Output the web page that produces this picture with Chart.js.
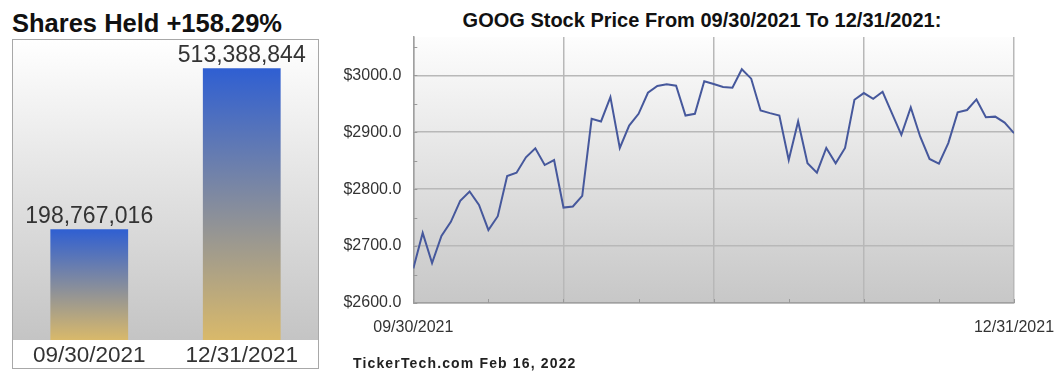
<!DOCTYPE html>
<html>
<head>
<meta charset="utf-8">
<script src="https://cdn.jsdelivr.net/npm/chart.js@4.4.1/dist/chart.umd.min.js"></script>
<style>
  body { margin: 0; background: #fff; width: 1060px; height: 386px; overflow: hidden; position: relative;
         font-family: Arial, "Liberation Sans", sans-serif; }
  .title { position: absolute; font-weight: bold; color: #111; white-space: nowrap; line-height: 1; }
  #sharesTitle { left: 12px; top: 11px; font-size: 25.5px; }
  #priceTitle { left: 702px; transform: translateX(-50%); top: 10px; font-size: 20px; }
  #sharesBox { position: absolute; left: 12px; top: 39px; width: 305px; height: 328px; border: 1px solid #a8a8a8; }
  #priceWrap { position: absolute; left: 330px; top: 0; }
  #footer { position: absolute; left: 353px; top: 356px; font-size: 14px; font-weight: bold; letter-spacing: 1.15px;
            color: #222; white-space: nowrap; line-height: 1; }
</style>
</head>
<body>
<div class="title" id="sharesTitle"></div>
<div class="title" id="priceTitle"></div>
<div id="sharesBox"><canvas id="sharesChart" width="305" height="328"></canvas></div>
<div id="priceWrap"><canvas id="priceChart" width="730" height="386"></canvas></div>
<div id="footer"></div>
<script>
// left panel: shares held at quarter end
const sharesTitle = "Shares Held +158.29%";
const quarterDates = ["09/30/2021", "12/31/2021"];
const sharesHeld = [198767016, 513388844];

// right panel: GOOG daily close, 09/30/2021 .. 12/31/2021
const priceTitle = "GOOG Stock Price From 09/30/2021 To 12/31/2021:";
const priceTickLabels = ["09/30/2021", "12/31/2021"];
const closePrices = [
  2660.7, 2723.0, 2670.0, 2717.8, 2742.5, 2779.5, 2796.0, 2772.4, 2728.3, 2752.5,
  2823.0, 2828.9, 2856.0, 2871.8, 2842.4, 2851.0, 2767.7, 2769.5, 2788.3, 2923.6,
  2918.9, 2961.8, 2872.4, 2911.8, 2932.4, 2969.4, 2981.2, 2984.1, 2981.8, 2929.4,
  2932.4, 2989.4, 2984.7, 2979.4, 2978.2, 3010.6, 2994.1, 2938.3, 2933.6, 2929.4,
  2851.2, 2918.9, 2845.4, 2828.9, 2872.4, 2845.4, 2872.4, 2957.1, 2968.8, 2958.8,
  2971.0, 2933.2, 2895.4, 2943.6, 2892.5, 2853.0, 2844.9, 2880.9, 2934.9, 2939.0,
  2957.6, 2926.2, 2927.4, 2916.9, 2898.3
];
const footerText = "TickerTech.com  Feb 16, 2022";

document.getElementById("sharesTitle").textContent = sharesTitle;
document.getElementById("priceTitle").textContent = priceTitle;
document.getElementById("footer").textContent = footerText;

Chart.defaults.font.family = 'Arial, "Liberation Sans", sans-serif';
Chart.defaults.color = "#333";

// fills the plot area with a vertical white-to-grey wash
const areaGradient = {
  id: "areaGradient",
  beforeDraw(chart, args, opts) {
    const { ctx, chartArea: a } = chart;
    const g = ctx.createLinearGradient(0, a.top, 0, a.bottom);
    g.addColorStop(0, opts.from);
    g.addColorStop(1, opts.to);
    ctx.save();
    ctx.fillStyle = g;
    ctx.fillRect(a.left, a.top, a.width, a.height);
    ctx.restore();
  }
};

// number printed above each bar
const barValues = {
  id: "barValues",
  afterDatasetsDraw(chart) {
    const { ctx } = chart;
    const meta = chart.getDatasetMeta(0);
    ctx.save();
    ctx.font = '23px Arial, "Liberation Sans", sans-serif';
    ctx.fillStyle = "#333";
    ctx.textAlign = "center";
    ctx.textBaseline = "alphabetic";
    meta.data.forEach((bar, i) => {
      ctx.fillText(sharesHeld[i].toLocaleString("en-US"), bar.x, bar.y - 6);
    });
    ctx.restore();
  }
};

// short tick marks pointing into the plot
const innerTicks = {
  id: "innerTicks",
  beforeDatasetsDraw(chart) {
    const { ctx, chartArea: a, scales: { x, y } } = chart;
    ctx.save();
    ctx.strokeStyle = "#9a9a9a";
    ctx.lineWidth = 1;
    ctx.beginPath();
    x.ticks.forEach(t => {
      const px = Math.round(x.getPixelForValue(t.value)) + 0.5;
      ctx.moveTo(px, a.bottom);
      ctx.lineTo(px, a.bottom - 4);
    });
    y.ticks.forEach(t => {
      const py = Math.round(y.getPixelForValue(t.value)) + 0.5;
      ctx.moveTo(a.left, py);
      ctx.lineTo(a.left + 4, py);
    });
    ctx.stroke();
    ctx.restore();
  }
};

const shareAxisMin = -17600000;
const shareAxisMax = 568700000;

new Chart(document.getElementById("sharesChart"), {
  type: "bar",
  data: {
    labels: quarterDates,
    datasets: [{
      data: sharesHeld,
      base: shareAxisMin,
      borderWidth: 0,
      barPercentage: 0.51,
      categoryPercentage: 1,
      backgroundColor(c) {
        const chart = c.chart;
        const a = chart.chartArea;
        if (!a) return "#3a62c8";
        const top = chart.scales.y.getPixelForValue(sharesHeld[c.dataIndex]);
        const g = chart.ctx.createLinearGradient(0, top, 0, a.bottom);
        g.addColorStop(0, "#2f5fd2");
        g.addColorStop(1, "#d9b96a");
        return g;
      }
    }]
  },
  options: {
    responsive: false,
    animation: false,
    devicePixelRatio: 1,
    layout: { padding: 0 },
    plugins: {
      legend: { display: false },
      tooltip: { enabled: false },
      areaGradient: { from: "#ffffff", to: "#c4c4c4" }
    },
    scales: {
      x: {
        afterFit(s) { s.height = 28; s.paddingLeft = 0; s.paddingRight = 0; },
        grid: { display: false, drawTicks: false },
        border: { display: false },
        ticks: { padding: 2, color: "#333", font: { size: 22.5 }, maxRotation: 0 }
      },
      y: { display: false, min: shareAxisMin, max: shareAxisMax }
    }
  },
  plugins: [areaGradient, barValues]
});

const lastIndex = closePrices.length - 1;

new Chart(document.getElementById("priceChart"), {
  type: "line",
  data: {
    datasets: [{
      data: closePrices.map((v, i) => ({ x: i, y: v })),
      borderColor: "#46589c",
      borderWidth: 2,
      pointRadius: 0,
      tension: 0,
      fill: false
    }]
  },
  options: {
    responsive: false,
    animation: false,
    devicePixelRatio: 1,
    layout: { padding: { top: 37, right: 46, left: 0, bottom: 0 } },
    plugins: {
      legend: { display: false },
      tooltip: { enabled: false },
      areaGradient: { from: "#fdfdfd", to: "#c7c7c7" }
    },
    scales: {
      x: {
        type: "linear",
        min: 0,
        max: lastIndex,
        // fixed axis box; the end labels may hang past the plot edges
        afterFit(s) { s.height = 83; s.paddingLeft = 0; s.paddingRight = 0; },
        grid: {
          drawTicks: false,
          lineWidth: 1.5,
          color: c => (c.tick && c.tick.value % 16 === 0 ? "#b8b8b8" : "rgba(0,0,0,0)")
        },
        border: { color: "#a0a0a0", width: 1.5 },
        ticks: {
          stepSize: 8,
          includeBounds: false,
          autoSkip: false,
          maxRotation: 0,
          padding: 15,
          color: "#333",
          font: { size: 16 },
          callback: v => (v === 0 ? priceTickLabels[0] : v === lastIndex ? priceTickLabels[1] : "")
        }
      },
      y: {
        min: 2600,
        max: 3067.3,
        afterFit(s) { s.width = 83.3; s.paddingTop = 0; s.paddingBottom = 0; },
        grid: {
          drawTicks: false,
          lineWidth: 1.5,
          color: c => (c.tick && c.tick.value % 100 === 0 ? "#b8b8b8" : "rgba(0,0,0,0)")
        },
        border: { color: "#a0a0a0", width: 1.5 },
        ticks: {
          stepSize: 50,
          includeBounds: false,
          padding: 12,
          color: "#333",
          font: { size: 16 },
          callback: v => (v % 100 === 0 ? "$" + v.toFixed(1) : "")
        }
      }
    }
  },
  plugins: [areaGradient, innerTicks]
});
</script>
</body>
</html>
